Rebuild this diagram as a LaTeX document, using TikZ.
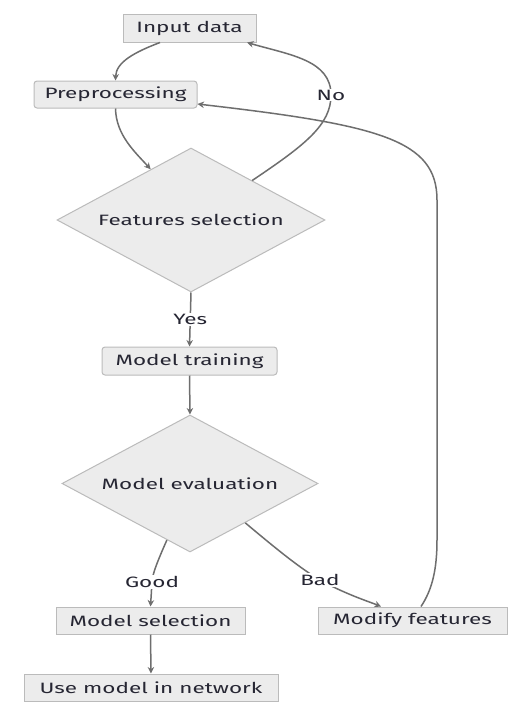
\documentclass[tikz,border=0pt]{standalone}
\usepackage{fontspec}
\setmainfont[FakeStretch=1.5]{Fira Sans}
\usetikzlibrary{shapes.geometric,arrows.meta,calc}
\definecolor{boxfill}{HTML}{ECECEC}
\definecolor{boxline}{HTML}{BBBBBB}
\definecolor{edgecol}{HTML}{6E6E6E}
\definecolor{txt}{HTML}{262633}
\tikzset{
  every node/.style={font=\fontsize{15}{17}\selectfont, text=txt},
  sqbox/.style={rectangle, draw=boxline, fill=boxfill, line width=1pt, inner sep=0pt},
  rbox/.style={sqbox, rounded corners=3pt},
  dbox/.style={diamond, aspect=1.86, draw=boxline, fill=boxfill, line width=1pt, inner sep=0pt},
  conn/.style={draw=edgecol, line width=1.5pt, -{Stealth[length=6.5pt,width=6.5pt]}},
  elabel/.style={fill=white, inner sep=1pt}
}
\begin{document}
\begin{tikzpicture}[x=1pt,y=-1pt]
\useasboundingbox[fill=white] (0,0) rectangle (524,702);
\node[sqbox, minimum width=133pt, minimum height=28pt] (input) at (189.5,28) {Input data};
\node[rbox, minimum width=163pt, minimum height=27pt] (prep) at (115.5,94.5) {Preprocessing};
\node[dbox, minimum width=268pt, minimum height=144pt] (feat) at (191,220) {Features selection};
\node[rbox, minimum width=175pt, minimum height=28pt] (train) at (189.5,361) {Model training};
\node[dbox, minimum width=256pt, minimum height=137pt] (eval) at (190,483.5) {Model evaluation};
\node[sqbox, minimum width=189pt, minimum height=27pt] (sel) at (150.5,620.5) {Model selection};
\node[sqbox, minimum width=189pt, minimum height=27pt] (mod) at (412.5,620.5) {Modify features};
\node[sqbox, minimum width=254pt, minimum height=27pt] (use) at (151,687.5) {Use model in network};

\draw[conn] ([xshift=-29.5pt]input.south) .. controls (135,52) and (116,62) .. (prep.north);
\draw[conn] (prep.south) .. controls (116,135) and (135,152) .. ($(feat.north)!0.3!(feat.west)$);
\draw[conn] ($(feat.north)!0.455!(feat.east)$) .. controls (305,145) and (331,125) .. (331,95)
   node[elabel] (no) {No}
   .. controls (331,60) and (290,55) .. ([xshift=57.5pt]input.south);
\draw[conn] (feat.south) -- node[elabel] (yes) {Yes} (train.north);
\draw[conn] (train.south) -- (eval.north);
\draw[conn] ($(eval.south)!0.18!(eval.west)$) .. controls (158,560) and (152,575) .. (152,582)
   node[elabel] (good) {Good} -- (sel.north);
\draw[conn] ($(eval.south)!0.43!(eval.east)$) .. controls (280,552) and (300,568) .. (320,580)
   node[elabel] (bad) {Bad} .. controls (345,594) and (370,602) .. ([xshift=-31.5pt]mod.north);
\draw[conn] ([xshift=8.5pt]mod.north) .. controls (432,590) and (437,570) .. (437,540) -- (437,200)
   .. controls (437,140) and (380,125) .. ([yshift=-9.5pt]prep.east);
\draw[conn] (sel.south) -- (use.north);
\end{tikzpicture}
\end{document}
